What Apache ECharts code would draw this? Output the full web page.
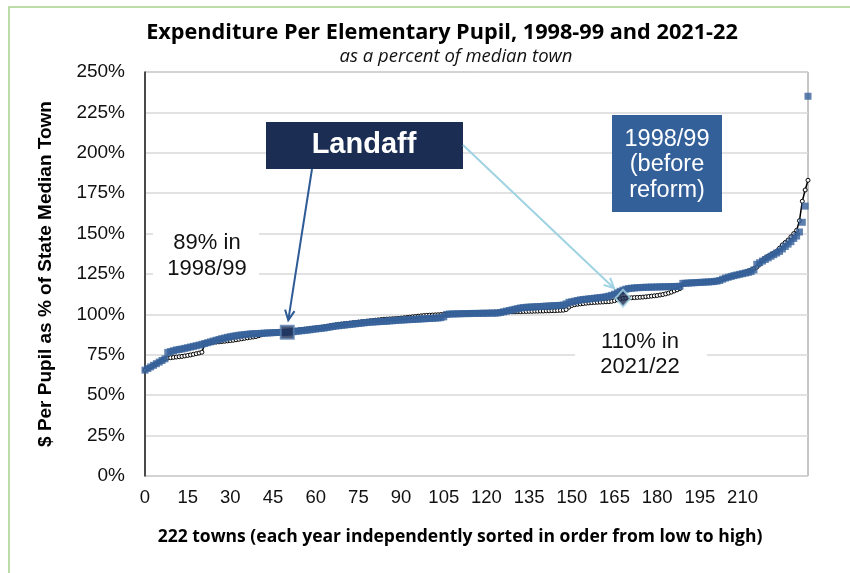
<!DOCTYPE html>
<html><head><meta charset="utf-8">
<script src="https://cdn.jsdelivr.net/npm/echarts@6/dist/echarts.min.js"></script>
<style>html,body{margin:0;padding:0;background:#fff}#c{width:850px;height:573px}</style>
</head><body><div id="c"></div>
<script>
// 1998/99 values (% of median town), sorted low to high
const v98 = [
65.5,66.5,67.5,68.5,69.5,70.5,71.5,72.5,76.5,77,
77.5,78,78.3,78.6,79,79.4,79.8,80.2,80.6,81,
81.5,82,82.5,83,83.5,84,84.5,85,85.4,85.8,
86.2,86.5,86.8,87.1,87.3,87.5,87.7,87.9,88,88.1,
88.2,88.3,88.4,88.5,88.6,88.7,88.8,88.8,88.9,88.9,
89,89.1,89.3,89.5,89.7,89.9,90.1,90.3,90.5,90.8,
91,91.2,91.4,91.6,91.9,92.2,92.5,92.8,93,93.2,
93.4,93.6,93.8,94,94.2,94.4,94.6,94.8,95,95.2,
95.3,95.4,95.5,95.6,95.7,95.8,96,96.1,96.2,96.4,
96.5,96.6,96.7,96.8,96.9,97,97.1,97.2,97.3,97.4,
97.5,97.6,97.7,97.8,98,98.5,100,100.2,100.3,100.3,
100.4,100.4,100.5,100.5,100.5,100.6,100.6,100.6,100.7,100.7,
100.7,100.8,100.8,100.8,100.9,101.2,101.6,102,102.4,102.8,
103.2,103.6,104,104.2,104.4,104.5,104.6,104.7,104.8,104.9,
105,105.1,105.2,105.3,105.4,105.5,105.6,105.8,106.5,107.5,
107.8,108.2,108.6,109,109.2,109.4,109.6,109.8,110,110.2,
110.4,110.6,110.9,111.3,111.8,112.5,113.5,114.3,115,115.6,
116,116.2,116.4,116.5,116.6,116.7,116.8,116.8,116.9,116.9,
117,117,117.1,117.1,117.2,117.2,117.3,117.3,117.4,119.2,
119.3,119.4,119.5,119.6,119.7,119.8,119.9,120,120.1,120.2,
120.4,120.6,121,121.8,122.5,123,123.5,124,124.4,124.8,
125.2,125.6,126,126.5,127.5,131,132,133,134,135,
136,137,138,139,140.5,142,143.5,145,147,148.5,
151,157,167,235
];
// 2021/22 values (% of median town), sorted low to high
const v21 = [
65.5,66.5,67.5,68.5,69.5,70.5,71.5,72.5,73,73.2,
73.4,73.6,73.8,74,74.3,74.6,74.9,75.3,75.7,76.1,
76.6,82,82.3,82.5,82.7,82.9,83,83.2,83.4,83.6,
83.8,84,84.3,84.6,84.9,85.2,85.5,85.8,86,86.3,
86.8,87.4,88,88.2,88.4,88.6,88.8,89,89.2,89.4,
89.6,89.8,90,90.2,90.4,90.6,90.8,91,91.2,91.4,
91.6,91.8,92,92.3,92.6,92.9,93.2,93.5,93.8,94,
94.2,94.4,94.6,94.8,95,95.2,95.4,95.6,95.8,96,
96.2,96.4,96.6,96.8,97,97.1,97.2,97.3,97.4,97.5,
97.7,97.9,98.1,98.3,98.5,98.7,98.9,99.1,99.3,99.4,
99.5,99.6,99.7,99.8,99.9,100,100.1,100.2,100.3,100.4,
100.5,100.6,100.7,100.8,100.9,101,101,101.1,101.1,101.2,
101.2,101.3,101.3,101.4,101.4,101.5,101.5,101.5,101.6,101.6,
101.6,101.7,101.7,101.8,101.8,101.9,101.9,102,102,102.1,
102.1,102.2,102.2,102.3,102.3,102.4,102.5,102.6,103,104.5,
105.5,106,106.3,106.5,106.7,106.9,107.1,107.3,107.4,107.5,
107.6,107.7,107.8,107.9,108.1,108.5,109,109.5,110,110.1,
110.2,110.3,110.4,110.5,110.6,110.7,110.9,111.1,111.3,111.5,
111.7,112,112.3,112.7,113.2,113.8,114.5,115.2,116,118.5,
119,119.3,119.5,119.7,119.8,119.9,120,120.1,120.2,120.4,
120.6,120.9,121.4,122,122.5,123,123.5,124,124.4,124.9,
125.5,126.2,126.9,127.5,128.3,129.2,131,133.5,135,136,
137,138,139,141,143,144.5,146,148,150,152,
158,170,177,183
];
const landaffRank98 = 50;   // Landaff position in 1998/99 order
const landaffRank21 = 168;  // Landaff position in 2021/22 order
const nTowns = 222;
const yMin = 0, yMax = 250, yStep = 25;
const xMin = 0, xMax = 233, xStep = 15;
const titleText = 'Expenditure Per Elementary Pupil, 1998-99 and 2021-22';
const subText = 'as a percent of median town';
const yName = '$ Per Pupil as % of State Median Town';
const xName = '222 towns (each year independently sorted in order from low to high)';

const townIdx = v98.map((_, i) => i);
const s98 = townIdx.map(i => [i, v98[i]]);
const s21 = townIdx.map(i => [i, v21[i]]);

const chart = echarts.init(document.getElementById('c'));
const labelFont = 'Liberation Sans, Arial, sans-serif';
const headFont = 'Open Sans, sans-serif';

chart.setOption({
  animation: false,
  grid: {left: 145, right: 42, top: 72, bottom: 97, show: true, borderColor: '#8c8c8c', borderWidth: 1},
  xAxis: {
    type: 'value', min: xMin, max: xMax, interval: xStep,
    axisLine: {show: false}, axisTick: {show: false}, splitLine: {show: false},
    axisLabel: {showMaxLabel: false, fontSize: 18.5, color: '#111', margin: 12, fontFamily: labelFont,
      formatter: v => (v > nTowns ? '' : String(v))}
  },
  yAxis: {
    type: 'value', min: yMin, max: yMax, interval: yStep,
    axisLine: {show: true, lineStyle: {color: '#222', width: 1.5}}, axisTick: {show: false},
    splitLine: {lineStyle: {color: '#d9d9d9', width: 1.5}},
    axisLabel: {formatter: '{value}%', fontSize: 19, color: '#111', margin: 20, fontFamily: labelFont},
    name: yName, nameLocation: 'middle', nameGap: 90, nameRotate: 90,
    nameTextStyle: {fontSize: 19, fontWeight: 'bold', color: '#000', fontFamily: labelFont}
  },
  series: [
    {
      name: '2021/22', type: 'line', data: s21, z: 2,
      lineStyle: {color: '#000', width: 1.5},
      symbol: 'circle', symbolSize: 4, showAllSymbol: true,
      itemStyle: {color: '#fff', borderColor: '#000', borderWidth: 1}
    },
    {
      name: '1998/99', type: 'scatter', data: s98, z: 3,
      symbol: 'rect', symbolSize: 7, itemStyle: {color: '#34609a'}
    },
    {
      name: 'Landaff', type: 'scatter', z: 5,
      data: [
        {value: [landaffRank98, v98[landaffRank98]], symbol: 'rect', symbolSize: 13,
         itemStyle: {color: '#1b2d52', borderColor: '#5a7fb0', borderWidth: 2}},
        {value: [landaffRank21, v21[landaffRank21]], symbol: 'diamond', symbolSize: [15, 17],
         itemStyle: {color: '#1b2d52', borderColor: '#a9d9e8', borderWidth: 2}}
      ]
    }
  ]
});

function arrow(p1, p2, color) {
  const ang = Math.atan2(p2[1] - p1[1], p2[0] - p1[0]);
  const L = 11, a = Math.PI / 7;
  const h1 = [p2[0] - L * Math.cos(ang - a), p2[1] - L * Math.sin(ang - a)];
  const h2 = [p2[0] - L * Math.cos(ang + a), p2[1] - L * Math.sin(ang + a)];
  return [
    {type: 'line', shape: {x1: p1[0], y1: p1[1], x2: p2[0], y2: p2[1]}, style: {stroke: color, lineWidth: 2}, z: 20},
    {type: 'polyline', shape: {points: [h1, p2, h2]}, style: {stroke: color, lineWidth: 2, fill: null}, z: 20}
  ];
}
const pA = chart.convertToPixel({gridIndex: 0}, [landaffRank98, v98[landaffRank98]]);
const pB = chart.convertToPixel({gridIndex: 0}, [landaffRank21, v21[landaffRank21]]);

const g = [
  {type: 'rect', shape: {x: 9, y: 7, width: 900, height: 700}, style: {stroke: '#a9d18e', lineWidth: 1.5, fill: null}, z: 1},
  {type: 'text', x: 442, y: 33, style: {text: titleText, fontSize: 21.7, fontWeight: 'bold', fontFamily: headFont, fill: '#000', align: 'center', verticalAlign: 'middle'}, z: 20},
  {type: 'text', x: 456, y: 57, style: {text: subText, fontSize: 18.5, fontStyle: 'italic', fontFamily: headFont, fill: '#111', align: 'center', verticalAlign: 'middle'}, z: 20},
  {type: 'text', x: 460, y: 537, style: {text: xName, fontSize: 17.5, fontWeight: 'bold', fontFamily: headFont, fill: '#000', align: 'center', verticalAlign: 'middle'}, z: 20},
  // 89% label
  {type: 'rect', shape: {x: 153, y: 228, width: 106, height: 54}, style: {fill: '#fff'}, z: 15},
  {type: 'text', x: 207, y: 256, style: {text: '89% in\n1998/99', fontSize: 22, lineHeight: 26, fontFamily: labelFont, fill: '#111', align: 'center', verticalAlign: 'middle'}, z: 20},
  // 110% label
  {type: 'rect', shape: {x: 575, y: 327, width: 132, height: 54}, style: {fill: '#fff'}, z: 15},
  {type: 'text', x: 640, y: 354, style: {text: '110% in\n2021/22', fontSize: 22, lineHeight: 25, fontFamily: labelFont, fill: '#111', align: 'center', verticalAlign: 'middle'}, z: 20},
  // Landaff box
  {type: 'rect', shape: {x: 266, y: 122, width: 197, height: 47}, style: {fill: '#1b2d52'}, z: 15},
  {type: 'text', x: 364, y: 145, style: {text: 'Landaff', fontSize: 29, fontWeight: 'bold', fontFamily: labelFont, fill: '#fff', align: 'center', verticalAlign: 'middle'}, z: 20},
  // 1998/99 box
  {type: 'rect', shape: {x: 612, y: 115, width: 110, height: 97}, style: {fill: '#34609a'}, z: 15},
  {type: 'text', x: 667, y: 165, style: {text: '1998/99\n(before\nreform)', fontSize: 23.5, lineHeight: 25.5, fontFamily: labelFont, fill: '#fff', align: 'center', verticalAlign: 'middle'}, z: 20}
].concat(
  arrow([312, 169], [pA[0] + 1, pA[1] - 12], '#2e5b96'),
  arrow([463, 145], [pB[0] - 9, pB[1] - 10], '#9fd3e3')
);
chart.setOption({graphic: g});
</script>
</body></html>
